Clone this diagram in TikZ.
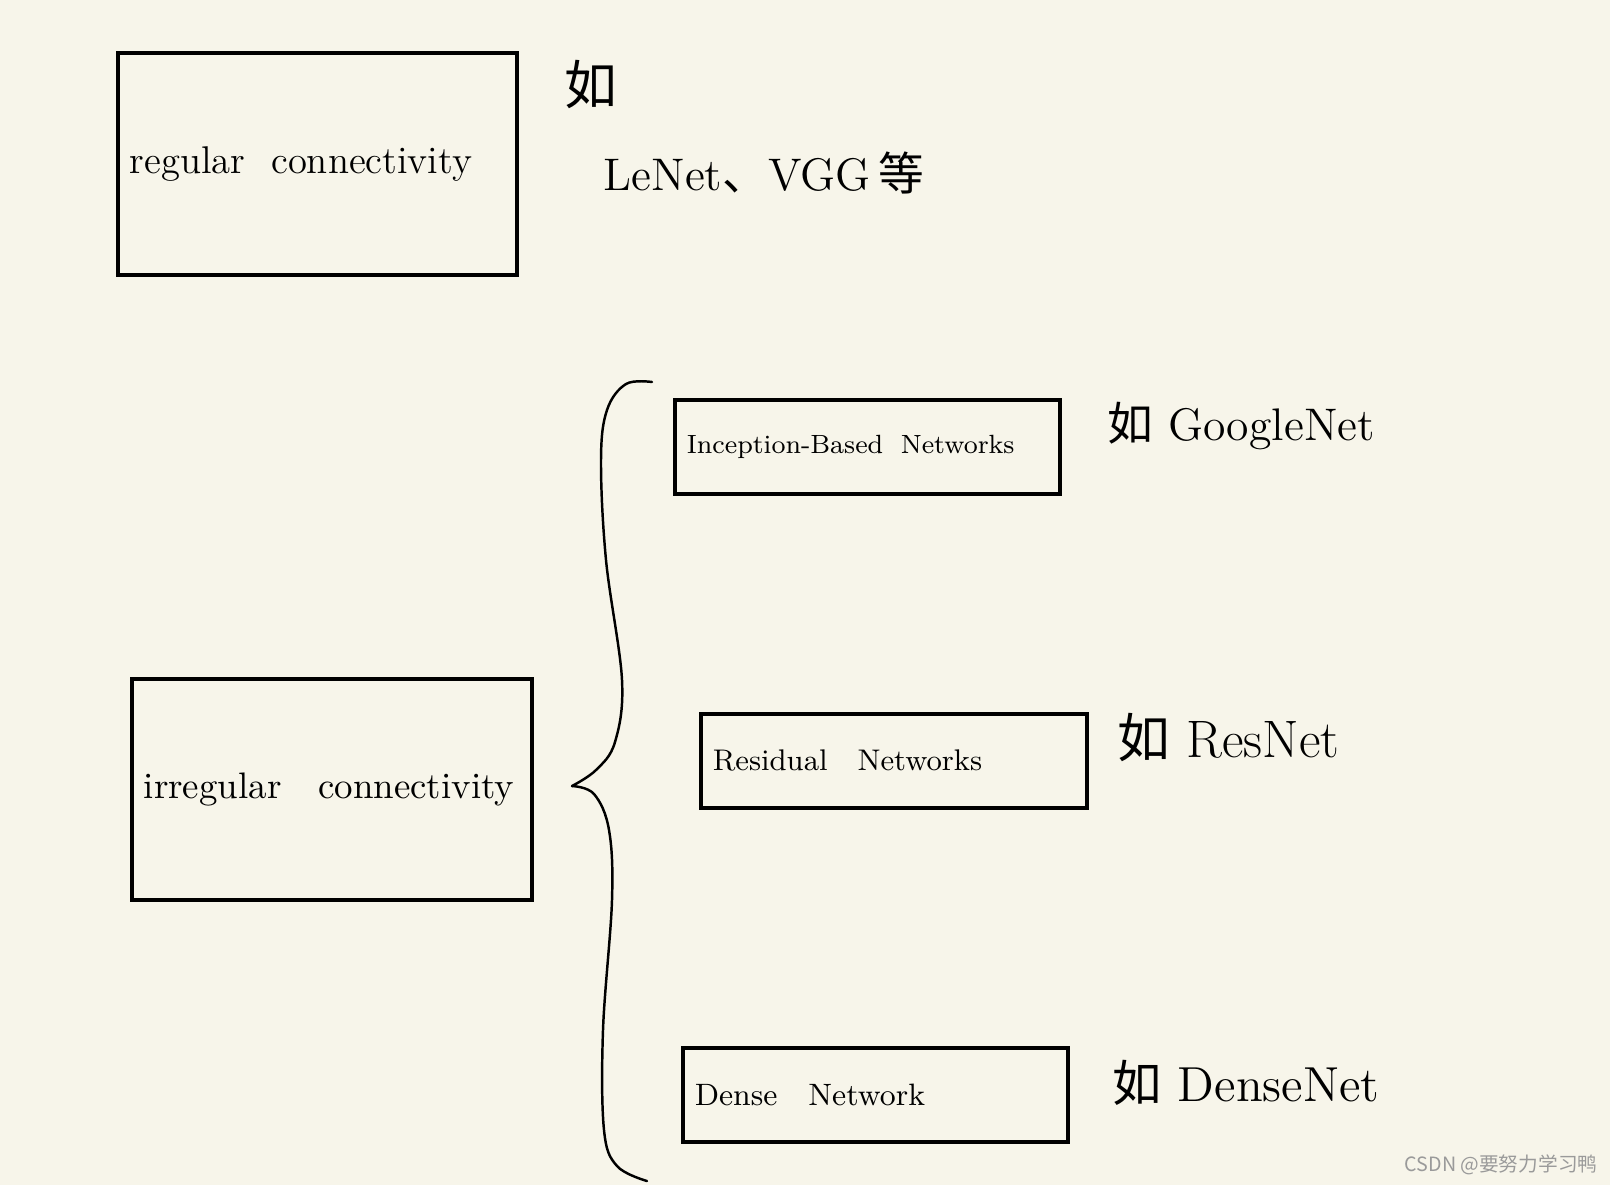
\documentclass[tikz,border=0pt]{standalone}
\usepackage{fontspec}
\newfontfamily\cjk{Noto Sans CJK SC}
\definecolor{paper}{HTML}{F7F5EA}
\definecolor{mark}{HTML}{9A9A9A}
\tikzset{
  netbox/.style={draw,line width=1pt,anchor=north west,align=left,inner sep=1.2mm},
  brace line/.style={line width=0.7pt,line cap=round}
}
\begin{document}
\begin{tikzpicture}[x=0.1mm,y=-0.1mm]
  \fill[paper] (0,0) rectangle (1610,1185);
  \useasboundingbox (0,0) rectangle (1610,1185);
  % left column
  \node[netbox,text width=37.5mm,minimum height=22.2mm,font=\fontsize{11}{13}\selectfont]
    (regular) at (116,51) {\mbox{regular\ \ connectivity}};
  \node[netbox,text width=37.6mm,minimum height=22.1mm,font=\fontsize{10.5}{13}\selectfont]
    (irregular) at (130,677) {\mbox{irregular\ \ \ connectivity}};
  % right column
  \node[netbox,text width=36.1mm,minimum height=9.4mm,font=\fontsize{7.5}{9}\selectfont]
    (inception) at (673,398) {\mbox{Inception-Based\ \ Networks}};
  \node[netbox,text width=36.2mm,minimum height=9.4mm,font=\fontsize{8.5}{10}\selectfont]
    (residual) at (699,712) {\mbox{Residual\ \ \ Networks}};
  \node[netbox,text width=36.1mm,minimum height=9.4mm,font=\fontsize{8.8}{11}\selectfont]
    (dense) at (681,1046) {\mbox{Dense\ \ \ Network}};
  % examples
  \node[font=\cjk\fontsize{15}{17}\selectfont] (ru) at (591,85) {如};
  \node[anchor=base west,inner sep=0pt,font=\fontsize{13}{15}\selectfont]
    (lenet) at (603,190) {LeNet{\cjk 、}VGG\,{\cjk 等}};
  \node[anchor=base west,inner sep=0pt,font=\fontsize{13}{15}\selectfont]
    (google) at (1107,440) {{\cjk 如}\ GoogleNet};
  \node[anchor=base west,inner sep=0pt,font=\fontsize{15}{17}\selectfont]
    (resnet) at (1117,757) {{\cjk 如}\ ResNet};
  \node[anchor=base west,inner sep=0pt,font=\fontsize{14}{16}\selectfont]
    (densenet) at (1112,1101) {{\cjk 如}\ DenseNet};
  % brace
  \coordinate (tip) at (572,786);
  \draw[brace line] plot[smooth,tension=0.6] coordinates
    {(652,382) (626,384) (607,410) (601,460) (606,560) (622,680) (615,742) (596,770) (tip)};
  \draw[brace line] plot[smooth,tension=0.6] coordinates
    {(tip) (594,794) (609,830) (612,900) (603,1030) (604,1130) (617,1166) (647,1181)};
  \node[anchor=base west,inner sep=0pt,text=mark,font=\cjk\fontsize{5.6}{7}\selectfont]
    (csdn) at (1404,1171) {CSDN @要努力学习鸭};
\end{tikzpicture}
\end{document}
